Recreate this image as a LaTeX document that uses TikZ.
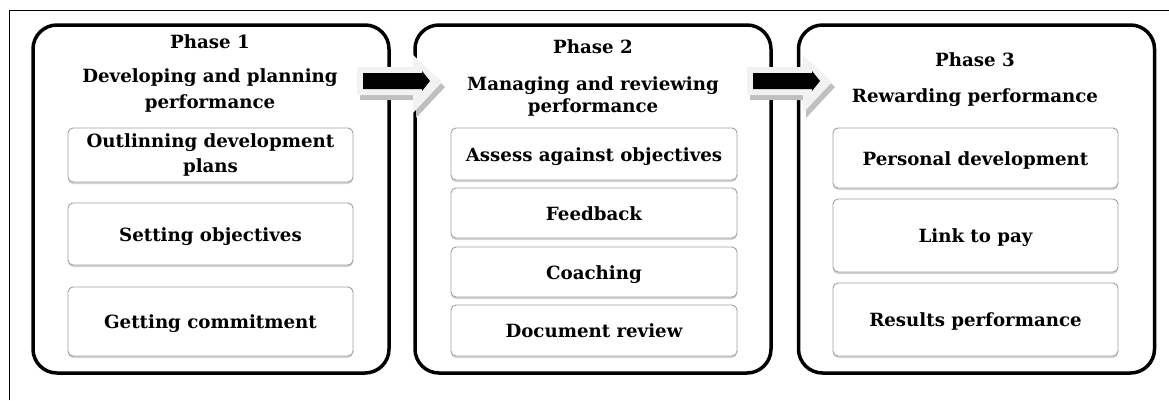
\documentclass[tikz,border=0pt]{standalone}
\usepackage{fontspec}
\setmainfont{DejaVu Serif}
\usetikzlibrary{shadows}

\newcommand{\boxfont}{\fontsize{18.2}{25}\selectfont\bfseries}

\tikzset{
    phasebox/.style={draw, line width=3.5pt, rounded corners=24pt,
        minimum width=356pt, minimum height=348pt, inner sep=0pt},
    itembox/.style={draw=gray!75, line width=0.9pt, rounded corners=5pt,
        fill=white, inner sep=0pt, align=center, font=\boxfont,
        drop shadow={shadow xshift=0pt, shadow yshift=-2pt, opacity=0.35}},
    oneline/.style={text height=14pt, text depth=0pt},
    heading/.style={inner sep=0pt, align=center, font=\boxfont},
}

\begin{document}
\begin{tikzpicture}[x=1pt, y=-1pt]
        \useasboundingbox (0,0) rectangle (1169,400);
        \draw[line width=1pt] (9,400) -- (9,10) -- (1169,10);

        % phases
        \node[phasebox] (p1) at (211,  199) {};
        \node[phasebox] (p2) at (593,  199) {};
        \node[phasebox] (p3) at (976.5,199) {};

        \node[heading, anchor=base]  (t1) at (210, 48) {Phase 1};
        \node[heading, anchor=north, font={\fontsize{18.2}{26}\selectfont\bfseries}]
            (d1) at (210, 68) {Developing and planning\\performance};
        \node[heading, anchor=base]  (t2) at (593, 53) {Phase 2};
        \node[heading, anchor=north, font={\fontsize{18.2}{22}\selectfont\bfseries}]
            (d2) at (593, 76) {Managing and reviewing\\performance};
        \node[heading, anchor=base]  (t3) at (975, 66) {Phase 3};
        \node[heading, anchor=base]  (d3) at (975,102) {Rewarding performance};

        % phase 1 items
        \node[itembox, minimum width=285pt, minimum height=54pt] (a1) at (210.5,155)
            {Outlinning development\\plans};
        \node[itembox, oneline, minimum width=285pt, minimum height=62pt] (a2) at (210.5,234)
            {Setting objectives};
        \node[itembox, oneline, minimum width=285pt, minimum height=69pt] (a3) at (210.5,321.5)
            {Getting commitment};

        % phase 2 items
        \node[itembox, oneline, minimum width=286pt, minimum height=52pt] (b1) at (594,154)
            {Assess against objectives};
        \node[itembox, oneline, minimum width=286pt, minimum height=50pt] (b2) at (594,213)
            {Feedback};
        \node[itembox, oneline, minimum width=286pt, minimum height=50pt] (b3) at (594,272)
            {Coaching};
        \node[itembox, oneline, minimum width=286pt, minimum height=51pt] (b4) at (594,330.5)
            {Document review};

        % phase 3 items
        \node[itembox, oneline, minimum width=285pt, minimum height=60pt] (c1) at (975.5,158)
            {Personal development};
        \node[itembox, oneline, minimum width=285pt, minimum height=73pt] (c2) at (975.5,235.5)
            {Link to pay};
        \node[itembox, oneline, minimum width=285pt, minimum height=73pt] (c3) at (975.5,319.5)
            {Results performance};

        % block arrows between phases
        \foreach \x in {357, 747} {
            \fill[gray!50] (\x+3,72) -- (\x+59,72) -- (\x+59,60) -- (\x+88,87)
                -- (\x+59,118) -- (\x+59,100) -- (\x+3,100) -- cycle;
            \fill[gray!10] (\x,67) -- (\x+56,67) -- (\x+56,55) -- (\x+85,82)
                -- (\x+56,113) -- (\x+56,95) -- (\x,95) -- cycle;
            \fill[black] (\x+6,73) -- (\x+65,73) -- (\x+65,71) -- (\x+73,81)
                -- (\x+65,91) -- (\x+65,89) -- (\x+6,89) -- cycle;
        }
    \end{tikzpicture}
\end{document}
